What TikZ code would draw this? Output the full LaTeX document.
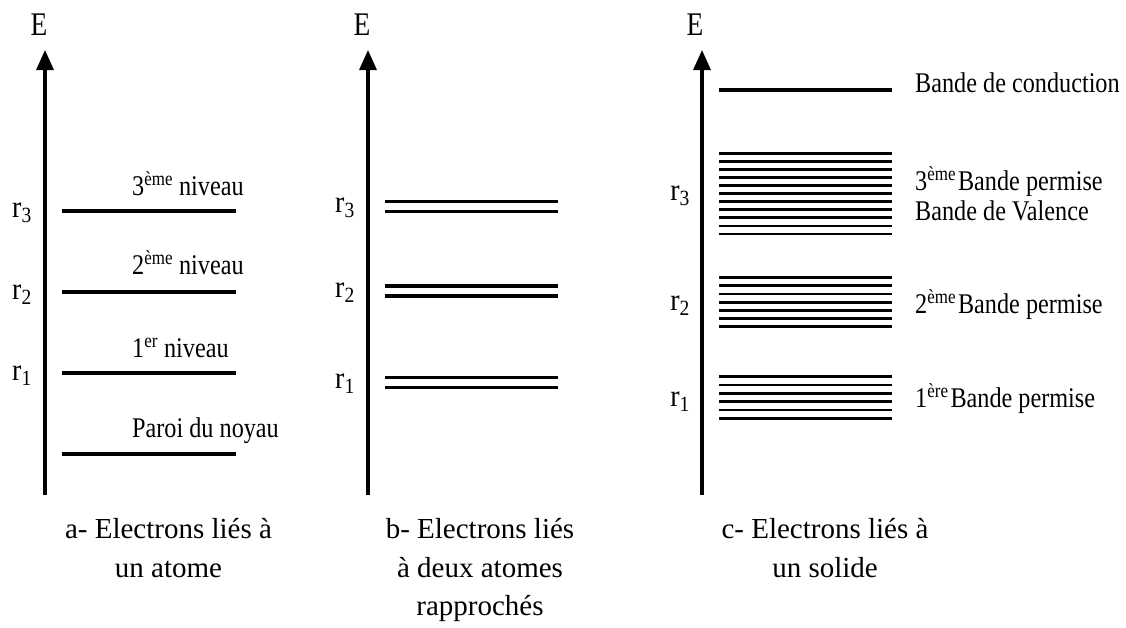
\documentclass[tikz,border=0pt]{standalone}
\usepackage{fontspec}
\setmainfont{Liberation Serif}
\newfontfamily\narrowserif[FakeStretch=0.85]{Liberation Serif}
\newfontfamily\axisserif[FakeStretch=0.83]{Liberation Serif}
\newfontfamily\radiusserif[FakeStretch=0.9]{Liberation Serif}
\usetikzlibrary{arrows.meta}

\begin{document}
\begin{tikzpicture}[x=1pt, y=-1pt,
  axis/.style={line width=3.2pt, -{Triangle[length=20pt,width=17pt]}},
  level/.style={line width=3.2pt},
  band/.style={line width=2.8pt},
  elabel/.style={font=\axisserif\fontsize{33}{33}\selectfont, inner sep=0pt},
  rlabel/.style={font=\radiusserif\fontsize{31}{31}\selectfont, inner sep=0pt, anchor=base east},
  lvl/.style={font=\narrowserif\fontsize{28.5}{28.5}\selectfont, inner sep=0pt, anchor=base west},
  captiontext/.style={font=\fontsize{29}{29}\selectfont, inner sep=0pt, anchor=base},
]
\useasboundingbox (0,0) rectangle (1126,627);

% ---------- a) one atom ----------
\coordinate (aBot) at (45,495);
\coordinate (aTop) at (45,50);
\draw[axis] (aBot) -- (aTop);
\node[elabel] (aE) at (39,25) {E};

\draw[level] (62,211) -- (236,211);
\draw[level] (62,292) -- (236,292);
\draw[level] (62,373) -- (236,373);
\draw[level] (62,454) -- (236,454);

\node[lvl] (aL3) at (132,195) {3\textsuperscript{ème} niveau};
\node[lvl] (aL2) at (132,274) {2\textsuperscript{ème} niveau};
\node[lvl] (aL1) at (132,357) {1\textsuperscript{er} niveau};
\node[lvl] (aL0) at (132,437) {Paroi du noyau};

\node[rlabel] (ar3) at (32,217) {r\textsubscript{3}};
\node[rlabel] (ar2) at (32,299) {r\textsubscript{2}};
\node[rlabel] (ar1) at (32,380) {r\textsubscript{1}};

\node[captiontext] (aC1) at (168.5,538) {a- Electrons liés à};
\node[captiontext] (aC2) at (168.5,577) {un atome};

% ---------- b) two close atoms ----------
\coordinate (bBot) at (368,495);
\coordinate (bTop) at (368,50);
\draw[axis] (bBot) -- (bTop);
\node[elabel] (bE) at (362,25) {E};

\foreach \y in {201.7,211.7,286,296,377.3,387.3}
  \draw[level] (385,\y) -- (558,\y);

\node[rlabel] (br3) at (355,212) {r\textsubscript{3}};
\node[rlabel] (br2) at (355,297) {r\textsubscript{2}};
\node[rlabel] (br1) at (355,388) {r\textsubscript{1}};

\node[captiontext] (bC1) at (480,538) {b- Electrons liés};
\node[captiontext] (bC2) at (480,577) {à deux atomes};
\node[captiontext] (bC3) at (480,615) {rapprochés};

% ---------- c) solid ----------
\coordinate (cBot) at (702,495);
\coordinate (cTop) at (702,50);
\draw[axis] (cBot) -- (cTop);
\node[elabel] (cE) at (695,25) {E};

\draw[level] (719,90) -- (892,90);
\foreach \i in {0,...,10}
  \draw[band] (719,{153.3+8.07*\i}) -- (892,{153.3+8.07*\i});
\foreach \i in {0,...,6}
  \draw[band] (719,{277.7+8.17*\i}) -- (892,{277.7+8.17*\i});
\foreach \i in {0,...,5}
  \draw[band] (719,{376.7+8.33*\i}) -- (892,{376.7+8.33*\i});

\node[rlabel] (cr3) at (690,200) {r\textsubscript{3}};
\node[rlabel] (cr2) at (690,310) {r\textsubscript{2}};
\node[rlabel] (cr1) at (690,406) {r\textsubscript{1}};

\node[lvl] (cL4) at (915,92) {Bande de conduction};
\node[lvl] (cL3) at (915,190) {3\textsuperscript{ème}\kern2pt Bande permise};
\node[lvl] (cLv) at (915,220) {Bande de Valence};
\node[lvl] (cL2) at (915,313) {2\textsuperscript{ème}\kern2pt Bande permise};
\node[lvl] (cL1) at (915,407) {1\textsuperscript{ère}\kern2pt Bande permise};

\node[captiontext] (cC1) at (825,538) {c- Electrons liés à};
\node[captiontext] (cC2) at (825,577) {un solide};
\end{tikzpicture}
\end{document}
